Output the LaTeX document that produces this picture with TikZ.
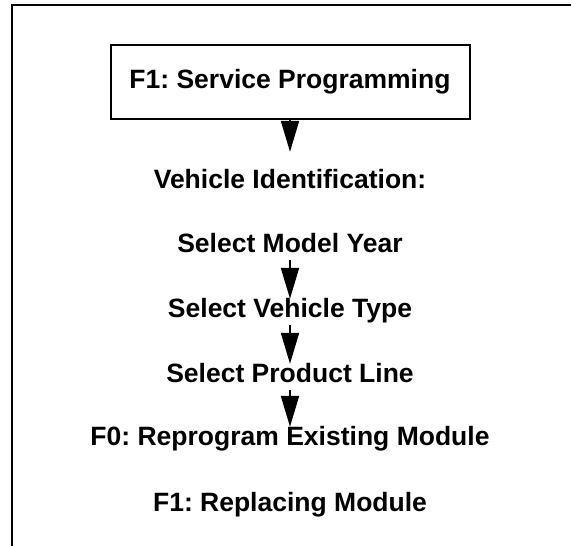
\documentclass[tikz,border=0pt]{standalone}
\usepackage{fontspec}
\setmainfont{Liberation Sans}
\usetikzlibrary{arrows.meta,positioning}
\frenchspacing

\begin{document}
\begin{tikzpicture}[x=1pt,y=-1pt,>={Triangle[length=31pt,width=18pt]},
  label txt/.style={font=\bfseries\fontsize{26.5}{30}\selectfont,inner sep=0pt,
    text height=18pt,text depth=6pt,anchor=base},
  flow/.style={->,line width=2pt,shorten <=2pt}]
  \useasboundingbox (0,0) rectangle (571,546);
  % frame
  \draw[line width=2pt] (571,5) -- (12,5) -- (12,546);
  \node[draw,line width=2pt,minimum width=359pt,minimum height=74pt,
    font=\bfseries\fontsize{26.5}{30}\selectfont] (svc) at (290,82) {F1: Service Programming};
  \node[label txt] (vid) at (290,188) {Vehicle Identification:};
  \node[label txt] (year) at (290,252) {Select Model Year};
  \node[label txt] (vtype) at (290,317) {Select Vehicle Type};
  \node[label txt] (pline) at (290,382) {Select Product Line};
  \node[label txt] (repro) at (290,445) {F0: Reprogram Existing Module};
  \node[label txt] (repl) at (290,511) {F1: Replacing Module};
  \draw[flow,shorten <=0pt,shorten >=18pt] (svc.south) -- (vid.north);
  \draw[flow] (year.south) -- (vtype.north);
  \draw[flow] (vtype.south) -- (pline.north);
  \draw[flow] (pline.south) -- (repro.north);
\end{tikzpicture}
\end{document}
